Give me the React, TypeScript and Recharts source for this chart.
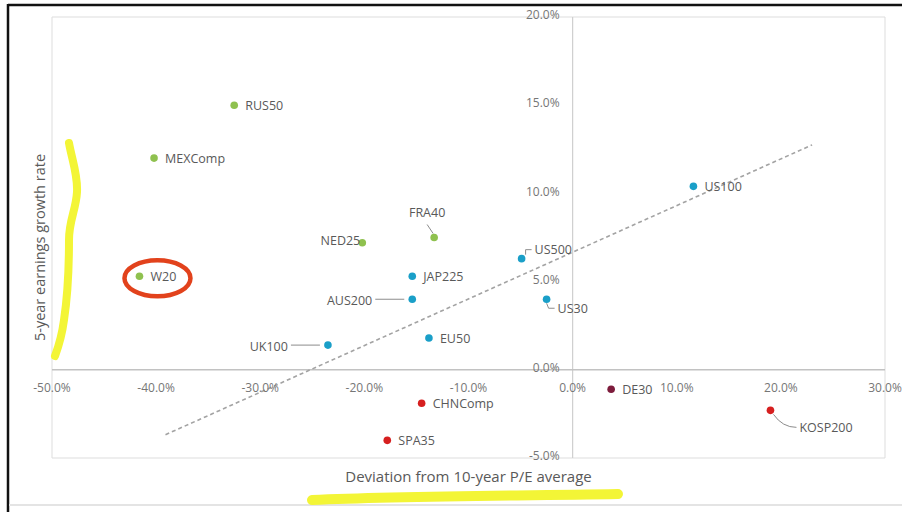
import React from 'react';
import { ScatterChart, Scatter, XAxis, YAxis, CartesianGrid, ReferenceLine, ReferenceDot } from 'recharts';

// ---- data ----
const greenNames = ['RUS50', 'MEXComp', 'NED25', 'FRA40', 'W20'];
const greenX = [-0.325, -0.402, -0.202, -0.133, -0.416];
const greenY = [0.150, 0.120, 0.072, 0.075, 0.053];

const blueNames = ['JAP225', 'AUS200', 'UK100', 'EU50', 'US500', 'US30', 'US100'];
const blueX = [-0.154, -0.154, -0.235, -0.138, -0.049, -0.025, 0.116];
const blueY = [0.053, 0.040, 0.014, 0.018, 0.063, 0.040, 0.104];

const redNames = ['CHNComp', 'SPA35', 'KOSP200'];
const redX = [-0.145, -0.178, 0.190];
const redY = [-0.019, -0.040, -0.023];

const maroonNames = ['DE30'];
const maroonX = [0.037];
const maroonY = [-0.011];

const trendX = [-0.391, 0.23];
const trendY = [-0.0368, 0.1275];

const xTicks = [-0.5, -0.4, -0.3, -0.2, -0.1, 0, 0.1, 0.2, 0.3];
const xTickLabels = ['-50.0%', '-40.0%', '-30.0%', '-20.0%', '-10.0%', '0.0%', '10.0%', '20.0%', '30.0%'];
const yTicks = [-0.05, 0, 0.05, 0.1, 0.15, 0.2];
const yTickLabels = ['-5.0%', '0.0%', '5.0%', '10.0%', '15.0%', '20.0%'];

const xTitle = 'Deviation from 10-year P/E average';
const yTitle = '5-year earnings growth rate';
const highlighted = 'W20';

// ---- style ----
const FONT = "'Open Sans', 'Noto Sans', sans-serif";
const LABEL_FILL = '#595959';
const TICK_FILL = '#767676';
const COLORS = { green: '#8fc14f', blue: '#1a9fc8', red: '#d61f1f', maroon: '#7d1c3c' };

const labelPlacement: Record<string, string> = {
  NED25: 'left',
  FRA40: 'above',
  AUS200: 'leftLine',
  UK100: 'leftLine',
  US500: 'upRight',
  US30: 'downRight',
  KOSP200: 'downRightCurve',
};

const build = (names: string[], xs: number[], ys: number[]) =>
  names.map((name, i) => ({ name, x: xs[i], y: ys[i] }));

const makeShape = (color: string) => (props: any) => {
  const { cx, cy, payload } = props;
  if (cx == null || cy == null) return null;
  const name = payload?.name ?? '';
  const mode = labelPlacement[name] || 'right';
  const t = { fill: LABEL_FILL, fontSize: 12.5, fontFamily: FONT } as any;
  const lc = '#8c8c8c';
  let label: React.ReactNode = null;
  if (mode === 'right') {
    label = <text x={cx + 11} y={cy} dominantBaseline="central" {...t}>{name}</text>;
  } else if (mode === 'left') {
    label = <text x={cx - 2} y={cy - 2} textAnchor="end" dominantBaseline="central" {...t}>{name}</text>;
  } else if (mode === 'leftLine') {
    label = (
      <g>
        <line x1={cx - 37} y1={cy} x2={cx - 8} y2={cy} stroke={lc} strokeWidth={1} />
        <text x={cx - 40} y={cy + 1} textAnchor="end" dominantBaseline="central" {...t}>{name}</text>
      </g>
    );
  } else if (mode === 'above') {
    label = (
      <g>
        <line x1={cx - 7} y1={cy - 13} x2={cx - 1} y2={cy - 4} stroke={lc} strokeWidth={1} />
        <text x={cx - 7} y={cy - 25} textAnchor="middle" dominantBaseline="central" {...t}>{name}</text>
      </g>
    );
  } else if (mode === 'upRight') {
    label = (
      <g>
        <polyline points={`${cx + 4},${cy - 4} ${cx + 4},${cy - 9} ${cx + 10},${cy - 9}`} fill="none" stroke={lc} strokeWidth={1} />
        <text x={cx + 13} y={cy - 9} dominantBaseline="central" {...t}>{name}</text>
      </g>
    );
  } else if (mode === 'downRight') {
    label = (
      <g>
        <polyline points={`${cx},${cy + 4} ${cx + 2},${cy + 9} ${cx + 8},${cy + 9}`} fill="none" stroke={lc} strokeWidth={1} />
        <text x={cx + 11} y={cy + 9} dominantBaseline="central" {...t}>{name}</text>
      </g>
    );
  } else if (mode === 'downRightCurve') {
    label = (
      <g>
        <path d={`M${cx + 3},${cy + 4} Q${cx + 12},${cy + 17} ${cx + 26},${cy + 17}`} fill="none" stroke={lc} strokeWidth={1} />
        <text x={cx + 29} y={cy + 17} dominantBaseline="central" {...t}>{name}</text>
      </g>
    );
  }
  return (
    <g>
      <circle cx={cx} cy={cy} r={3.8} fill={color} />
      {label}
    </g>
  );
};

const ellipseShape = (props: any) => {
  const { cx, cy } = props;
  if (cx == null || cy == null) return null;
  return <ellipse cx={cx + 18} cy={cy + 2} rx={33} ry={18} fill="none" stroke="#e2421c" strokeWidth={4.5} />;
};

const tickLabelStyle = { fill: TICK_FILL, fontSize: 12, fontFamily: FONT };

// chart geometry
const W = 902;
const H = 512;
const M = { top: 17, right: 17, bottom: 54, left: 52 };

export default function App() {
  const green = build(greenNames, greenX, greenY);
  const blue = build(blueNames, blueX, blueY);
  const red = build(redNames, redX, redY);
  const maroon = build(maroonNames, maroonX, maroonY);
  const hi = [...green, ...blue, ...red, ...maroon].find((d) => d.name === highlighted)!;

  const xTitleX = M.left + (W - M.left - M.right) / 2;
  const xTitleY = H - M.bottom + 18;
  const yTitleX = M.left - 13;
  const yTitleY = M.top + (H - M.top - M.bottom) / 2 + 10;

  return (
    <div style={{ position: 'absolute', left: 0, top: 0, width: W, height: H, background: '#ffffff', overflow: 'hidden', fontFamily: FONT }}>
      <div style={{ position: 'absolute', left: 0, top: 0 }}>
        <ScatterChart width={W} height={H} margin={M}>
          <CartesianGrid stroke="#dddddd" strokeWidth={1} />
          <XAxis
            type="number"
            dataKey="x"
            domain={[-0.5, 0.3]}
            ticks={xTicks}
            allowDataOverflow
            height={0}
            tick={false}
            tickLine={false}
            axisLine={false}
          />
          <YAxis
            type="number"
            dataKey="y"
            domain={[-0.05, 0.2]}
            ticks={yTicks}
            allowDataOverflow
            width={0}
            tick={false}
            tickLine={false}
            axisLine={false}
          />
          <ReferenceLine x={0} stroke="#cfcfcf" strokeWidth={1.2} />
          <ReferenceLine y={0} stroke="#c2c2c2" strokeWidth={1.5} />
          {yTicks.map((v, i) => (
            <ReferenceDot
              key={'yt' + i}
              x={0}
              y={v}
              r={0}
              fill="none"
              stroke="none"
              label={{ value: yTickLabels[i], position: 'left', offset: 13, dy: -2, ...tickLabelStyle }}
            />
          ))}
          {xTicks.map((v, i) => (
            <ReferenceDot
              key={'xt' + i}
              x={v}
              y={0}
              r={0}
              fill="none"
              stroke="none"
              label={{ value: xTickLabels[i], position: 'bottom', offset: 14, ...tickLabelStyle }}
            />
          ))}
          <ReferenceLine
            segment={[
              { x: trendX[0], y: trendY[0] },
              { x: trendX[1], y: trendY[1] },
            ]}
            stroke="#a3a3a3"
            strokeWidth={1.6}
            strokeDasharray="4 3"
          />
          <Scatter data={green} shape={makeShape(COLORS.green)} isAnimationActive={false} />
          <Scatter data={blue} shape={makeShape(COLORS.blue)} isAnimationActive={false} />
          <Scatter data={red} shape={makeShape(COLORS.red)} isAnimationActive={false} />
          <Scatter data={maroon} shape={makeShape(COLORS.maroon)} isAnimationActive={false} />
          <ReferenceDot x={hi.x} y={hi.y} r={0} shape={ellipseShape} />
        </ScatterChart>
      </div>
      <svg width={W} height={H} style={{ position: 'absolute', left: 0, top: 0, pointerEvents: 'none' }}>
        <text x={xTitleX} y={xTitleY} textAnchor="middle" dominantBaseline="central" fill={LABEL_FILL} fontSize={15} fontFamily={FONT}>
          {xTitle}
        </text>
        <text
          x={yTitleX}
          y={yTitleY}
          transform={`rotate(-90 ${yTitleX} ${yTitleY})`}
          textAnchor="middle"
          dominantBaseline="central"
          fill={LABEL_FILL}
          fontSize={14.5}
          fontFamily={FONT}
        >
          {yTitle}
        </text>
        <line x1={8} y1={5} x2={W} y2={5} stroke="#111111" strokeWidth={2.5} />
        <line x1={8} y1={4} x2={8} y2={H} stroke="#111111" strokeWidth={2.5} />
        <line x1={9} y1={505} x2={W} y2={505} stroke="#e4e4e4" strokeWidth={2} />
        <path
          d="M69,143 C72,160 78,175 77,192 C76,210 69,220 69,240 C69,270 67,300 64,320 C62,335 58,348 55,356"
          fill="none"
          stroke="#f3f536"
          strokeWidth={8}
          strokeLinecap="round"
        />
        <path d="M312,500 C400,496 500,496 618,494" fill="none" stroke="#f3f536" strokeWidth={10} strokeLinecap="round" />
      </svg>
    </div>
  );
}
